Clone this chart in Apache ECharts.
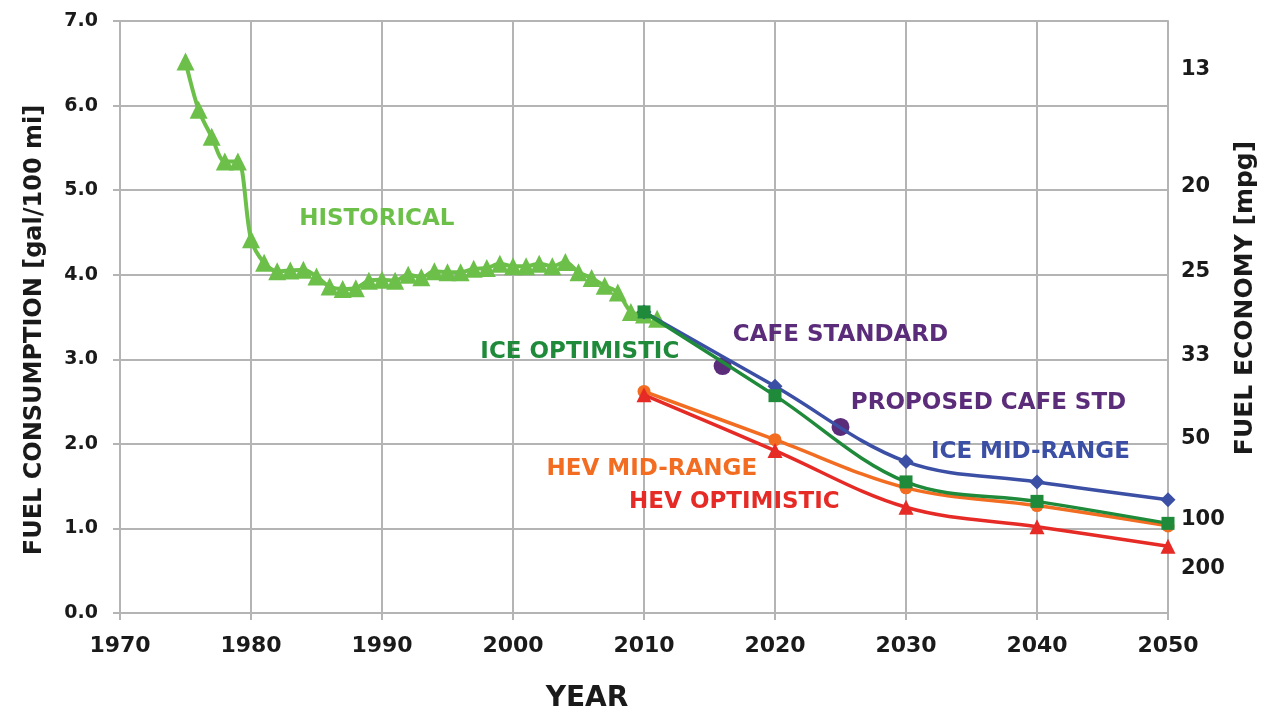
<!DOCTYPE html>
<html>
<head>
<meta charset="utf-8">
<script src="https://cdn.jsdelivr.net/npm/echarts@6/dist/echarts.min.js"></script>
<style>
html,body{margin:0;padding:0;background:#fff;}
#c{width:1264px;height:718px;}
</style>
</head>
<body>
<div id="c"></div>
<script>
// ---- data ----
const histYears = [1975,1976,1977,1978,1979,1980,1981,1982,1983,1984,1985,1986,1987,1988,1989,1990,1991,1992,1993,1994,1995,1996,1997,1998,1999,2000,2001,2002,2003,2004,2005,2006,2007,2008,2009,2010,2011];
const histValues = [6.52,5.95,5.63,5.34,5.34,4.42,4.14,4.04,4.05,4.06,3.98,3.86,3.83,3.84,3.93,3.94,3.93,4.00,3.97,4.04,4.03,4.03,4.07,4.08,4.13,4.10,4.10,4.13,4.10,4.15,4.03,3.96,3.87,3.79,3.56,3.53,3.48];
const futureYears = [2010,2020,2030,2040,2050];
const iceMidRange = [3.56,2.68,1.79,1.55,1.34];
const iceOptimistic = [3.56,2.57,1.55,1.32,1.06];
const hevMidRange = [2.62,2.05,1.48,1.27,1.03];
const hevOptimistic = [2.58,1.92,1.25,1.02,0.79];
const cafeYears = [2016,2025];
const cafeValues = [2.92,2.20];
const leftTickLabels = ['0.0','1.0','2.0','3.0','4.0','5.0','6.0','7.0'];
const rightTickLabels = ['13','20','25','33','50','100','200'];
const rightTickValues = [6.43,5.04,4.04,3.05,2.06,1.11,0.53];
const annotations = [
  {text:'HISTORICAL', year:1989.6, value:4.66, color:'#6CC04A'},
  {text:'ICE OPTIMISTIC', year:2005.1, value:3.09, color:'#1E8A3A'},
  {text:'CAFE STANDARD', year:2025.0, value:3.29, color:'#5B2C7A'},
  {text:'PROPOSED CAFE STD', year:2036.3, value:2.48, color:'#5B2C7A'},
  {text:'ICE MID-RANGE', year:2039.5, value:1.90, color:'#3B4FA5'},
  {text:'HEV MID-RANGE', year:2010.6, value:1.70, color:'#F26D21'},
  {text:'HEV OPTIMISTIC', year:2016.9, value:1.31, color:'#E62A25'}
];

const pair = (xs, ys) => xs.map((x,i)=>[x, ys[i]]);
const FONT = 'DejaVu Sans';
const GRID = '#b4b4b4';
const TXT = '#1a1a1a';

const chart = echarts.init(document.getElementById('c'), null, {renderer:'canvas'});
const option = {
  animation:false,
  backgroundColor:'#fff',
  grid:{left:120, right:96, top:21, bottom:105, containLabel:false},
  xAxis:{
    type:'value', min:1970, max:2050, interval:10,
    axisLine:{show:true, lineStyle:{color:GRID, width:2}},
    axisTick:{show:true, length:7, lineStyle:{color:GRID, width:2}},
    splitLine:{show:true, lineStyle:{color:GRID, width:2}},
    axisLabel:{margin:22, fontFamily:FONT, fontWeight:'bold', fontSize:22, color:TXT, formatter:v=>String(v)}
  },
  yAxis:[{
    type:'value', min:0, max:7, interval:1, position:'left',
    axisLine:{show:true, lineStyle:{color:GRID, width:2}},
    axisTick:{show:true, length:7, lineStyle:{color:GRID, width:2}},
    splitLine:{show:true, lineStyle:{color:GRID, width:2}},
    axisLabel:{margin:22, fontFamily:FONT, fontWeight:'bold', fontSize:19, color:TXT, formatter:v=>leftTickLabels[Math.round(v)]}
  },{
    type:'value', min:0, max:7, position:'right',
    axisLine:{show:true, lineStyle:{color:GRID, width:2}},
    axisTick:{show:false},
    splitLine:{show:false},
    axisLabel:{margin:13, fontFamily:FONT, fontWeight:'bold', fontSize:21, color:TXT,
      customValues:rightTickValues,
      formatter:v=>{const i=rightTickValues.findIndex(t=>Math.abs(t-v)<1e-6); return i>=0?rightTickLabels[i]:'';}}
  }],
  series:[
    {name:'CAFE', type:'line', data:pair(cafeYears,cafeValues), symbol:'circle', symbolSize:18,
     lineStyle:{width:0, opacity:0}, itemStyle:{color:'#5B2C7A'}, z:2},
    {name:'HISTORICAL', type:'line', data:pair(histYears,histValues), smooth:0.3, symbol:'triangle', symbolSize:18,
     lineStyle:{width:4, color:'#6CC04A'}, itemStyle:{color:'#6CC04A'}, z:3},
    {name:'HEV MID-RANGE', type:'line', data:pair(futureYears,hevMidRange), smooth:0.35, symbol:'circle', symbolSize:13,
     lineStyle:{width:3.5, color:'#F26D21'}, itemStyle:{color:'#F26D21'}, z:4},
    {name:'HEV OPTIMISTIC', type:'line', data:pair(futureYears,hevOptimistic), smooth:0.35, symbol:'triangle', symbolSize:15,
     lineStyle:{width:3.5, color:'#E62A25'}, itemStyle:{color:'#E62A25'}, z:5},
    {name:'ICE MID-RANGE', type:'line', data:pair(futureYears,iceMidRange), smooth:0.35, symbol:'diamond', symbolSize:15,
     lineStyle:{width:3.5, color:'#3B4FA5'}, itemStyle:{color:'#3B4FA5'}, z:6},
    {name:'ICE OPTIMISTIC', type:'line', data:pair(futureYears,iceOptimistic), smooth:0.35, symbol:'rect', symbolSize:13,
     lineStyle:{width:3.5, color:'#1E8A3A'}, itemStyle:{color:'#1E8A3A'}, z:7}
  ]
};
chart.setOption(option);
const graphics = annotations.map(a=>{
  const p = chart.convertToPixel({xAxisIndex:0, yAxisIndex:0}, [a.year, a.value]);
  return {type:'text', x:p[0], y:p[1], z:100,
    style:{text:a.text, fill:a.color, font:'bold 23px "DejaVu Sans"', textAlign:'center', textVerticalAlign:'middle'}};
});
// axis titles
graphics.push({type:'text', x:587, y:699, z:100,
  style:{text:'YEAR', fill:TXT, font:'bold 28px "DejaVu Sans"', textAlign:'center', textVerticalAlign:'middle'}});
graphics.push({type:'text', x:35, y:330, rotation:Math.PI/2, z:100,
  style:{text:'FUEL CONSUMPTION [gal/100 mi]', fill:TXT, font:'bold 24px "DejaVu Sans"', textAlign:'center', textVerticalAlign:'middle'}});
graphics.push({type:'text', x:1245, y:298, rotation:Math.PI/2, z:100,
  style:{text:'FUEL ECONOMY [mpg]', fill:TXT, font:'bold 25px "DejaVu Sans"', textAlign:'center', textVerticalAlign:'middle'}});
chart.setOption({graphic:graphics});
</script>
</body>
</html>
